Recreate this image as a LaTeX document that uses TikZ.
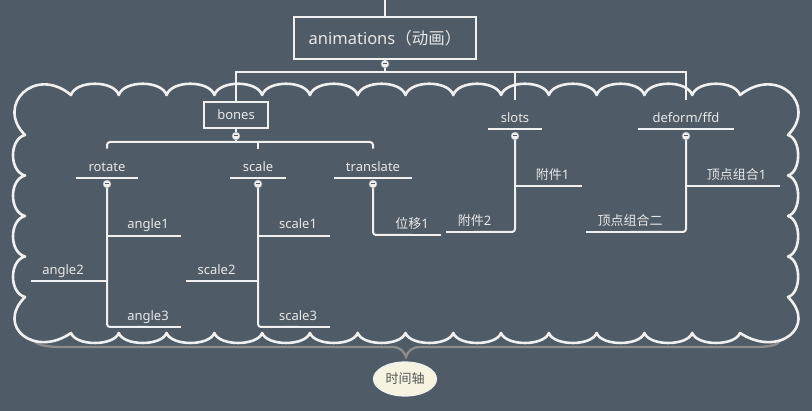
\documentclass[tikz,border=0pt]{standalone}
\usepackage{fontspec}
\setmainfont{Noto Sans}
\newfontfamily\cjk{Noto Sans CJK SC}
\usetikzlibrary{calc,shapes.geometric}
\definecolor{bg}{RGB}{79,91,102}
\definecolor{ln}{RGB}{240,240,240}
\definecolor{tx}{RGB}{232,232,232}
\definecolor{brc}{RGB}{140,140,140}
\definecolor{ovalfill}{RGB}{246,243,224}
\definecolor{ovaltx}{RGB}{85,85,85}
\begin{document}
\begin{tikzpicture}[x=1pt,y=-1pt,
  conn/.style={draw=ln, line width=2pt},
  rconn/.style={conn, rounded corners=3pt},
  boxnode/.style={draw=ln, line width=2pt, text=tx, inner sep=0pt, font=\fontsize{13}{15}\selectfont},
  topic/.style={text=tx, font=\fontsize{13}{15}\selectfont, inner xsep=0pt, inner ysep=0pt,
    minimum width=#1, text height=22.5pt, text depth=6.5pt, anchor=south,
    append after command={(\tikzlastnode.south west) edge[conn] (\tikzlastnode.south east)}},
  sub/.style={topic=#1, text height=10pt},
  coll/.style={circle, fill=ln, draw=bg!50!ln, line width=0.5pt, minimum size=8pt, inner sep=0pt,
    path picture={\draw[bg, line width=1pt] ([xshift=-2pt]path picture bounding box.center) -- ([xshift=2pt]path picture bounding box.center);}},
  cloudline/.style={draw=ln, line width=2.6pt, line join=round},
  brace/.style={draw=brc, line width=2.3pt, line cap=round}
]
\useasboundingbox (0,0) rectangle (812,411);
\fill[bg] (0,0) rectangle (812,411);

% summary brace (behind the cloud)
\coordinate (bl) at (33,340);
\coordinate (br) at (781,340);
\coordinate (tip) at (406,357);
\draw[brace] (bl) .. controls (38,346) and (48,347) .. (65,347) -- (392,347)
  .. controls (400,347) and (404,351) .. (tip)
  .. controls (408,351) and (412,347) .. (420,347) -- (755,347)
  .. controls (770,347) and (778,345) .. (br);

% cloud boundary
\draw[cloudline] (25,135)
  .. controls (-5,105) and (35,65) .. (71,95)
  foreach \i in {0,...,13} { .. controls ({71+\i*47.786+5},80) and ({71+(\i+1)*47.786-5},80) .. ({71+(\i+1)*47.786},95) }
  .. controls (778,65) and (818,105) .. (788,135)
  foreach \j in {0,...,3} { .. controls (801.5,{135+\j*40.5+4}) and (801.5,{135+(\j+1)*40.5-4}) .. (788,{135+(\j+1)*40.5}) }
  .. controls (818,327) and (778,358) .. (740,333)
  foreach \i in {13,...,0} { .. controls ({71+(\i+1)*47.786-5},346.3) and ({71+\i*47.786+5},346.3) .. ({71+\i*47.786},333) }
  .. controls (35,358) and (-5,327) .. (25,297)
  foreach \j in {0,...,3} { .. controls (9,{297-\j*40.5-4}) and (9,{297-(\j+1)*40.5+4}) .. (25,{297-(\j+1)*40.5}) }
  -- cycle;

% nodes
\node[boxnode, minimum width=182pt, minimum height=42pt, font=\fontsize{16.5}{19}\selectfont] (anim) at (385,38) {animations{\cjk （动画）}};
\coordinate (topin) at (385,0);
\node[coll] (canim) at (385,64) {};
\coordinate (bus) at (385,72);
\node[boxnode, minimum width=64pt, minimum height=26pt] (bones) at (236,115) {bones};
\node[topic=53pt] (slots) at (515,129) {slots};
\node[topic=95pt] (deform) at (686,129) {deform/ffd};
\node[coll] (cbones) at (236,136) {};
\node[coll] (cslots) at (515,136) {};
\node[coll] (cdef) at (686,136) {};
\coordinate (bb) at (236,142);
\node[topic=62pt] (rotate) at (107,178) {rotate};
\node[topic=55pt] (scale) at (258,178) {scale};
\node[topic=78pt] (translate) at (373,178) {translate};
\node[coll] (crot) at (107,184) {};
\node[coll] (csca) at (258,184) {};
\node[coll] (ctra) at (373,184) {};

\node[sub=66pt] (a1) at (148,235.7) {angle1};
\node[sub=64pt] (a2) at (63,281) {angle2};
\node[sub=66pt] (a3) at (148,327) {angle3};
\node[sub=64pt] (s1) at (298,235.7) {scale1};
\node[sub=61pt] (s2) at (216.5,281) {scale2};
\node[sub=64pt] (s3) at (298,327) {scale3};
\node[sub=58pt] (t1) at (412,235) {{\cjk 位移}1};
\node[sub=59pt] (f1) at (552.5,186) {{\cjk 附件}1};
\node[sub=57pt] (f2) at (474.5,232) {{\cjk 附件}2};
\node[sub=87pt] (v1) at (736.5,186) {{\cjk 顶点组合}1};
\node[sub=88pt] (v2) at (630,232) {\cjk 顶点组合二};

\node[ellipse, fill=ovalfill, draw=ln, line width=1.2pt, minimum width=63pt, minimum height=34pt, inner sep=0pt,
  text=ovaltx, font=\cjk\fontsize{13}{15}\selectfont] (time) at (405,379) {时间轴};

% connectors
\draw[conn] (topin) -- (anim);
\draw[conn] (anim) -- (canim);
\draw[conn] (canim) -- (bus);
\draw[conn] (bones.north) |- (bus -| deform.north) -- (deform.north);
\draw[conn] (slots.north) -- (slots.north |- bus);
\draw[conn] (bones) -- (cbones);
\draw[conn] (cbones) -- (bb);
\draw[rconn] (rotate.north) |- (bb) -| (translate.north);
\draw[conn] (scale.north) -- (scale.north |- bb);

\draw[rconn] (crot) |- (a3.south);
\draw[conn] (crot |- a1.south) -- (a1.south west);
\draw[conn] (a2.south east) -- (crot |- a2.south);
\draw[rconn] (csca) |- (s3.south);
\draw[conn] (csca |- s1.south) -- (s1.south west);
\draw[conn] (s2.south east) -- (csca |- s2.south);
\draw[rconn] (ctra) |- (t1.south);
\draw[rconn] (cslots) |- (f2.south);
\draw[conn] (cslots |- f1.south) -- (f1.south west);
\draw[rconn] (cdef) |- (v2.south);
\draw[conn] (cdef |- v1.south) -- (v1.south west);
\end{tikzpicture}
\end{document}
